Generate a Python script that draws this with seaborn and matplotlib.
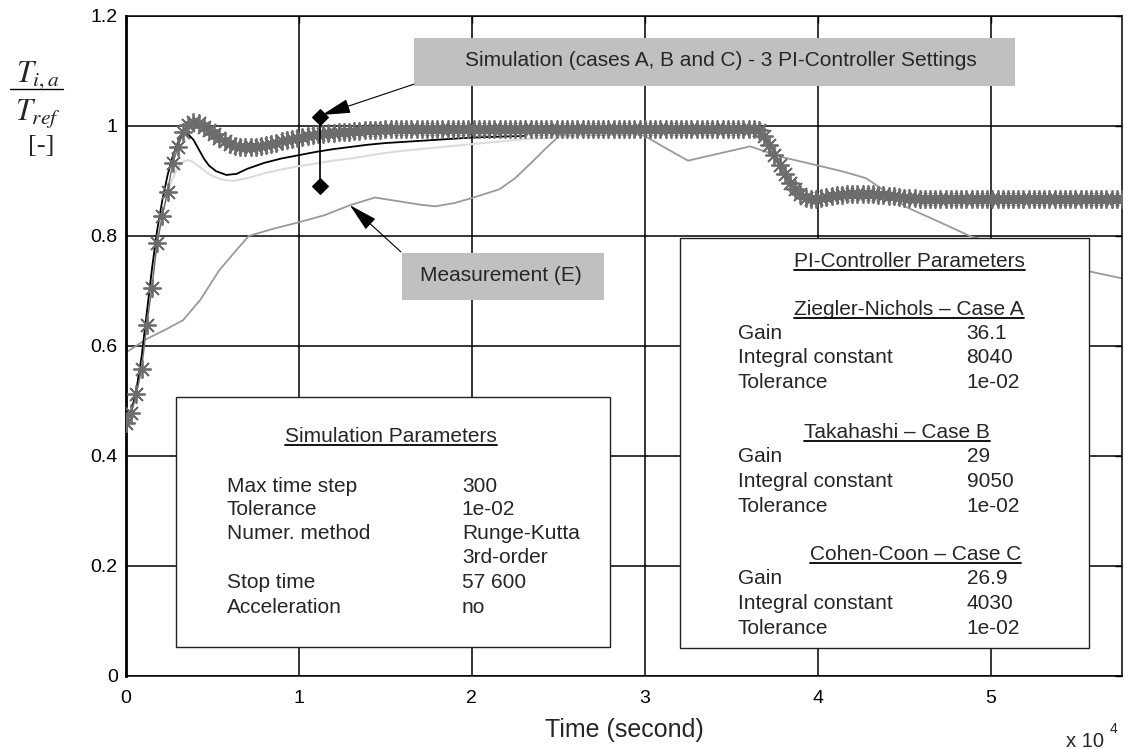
import numpy as np
import matplotlib
matplotlib.use('Agg')
import matplotlib.pyplot as plt
import seaborn as sns
from matplotlib.patches import Rectangle
from matplotlib.lines import Line2D

# simulated response with stars (one value every 300 s, the max time step)
sim_step = 300
sim_y = [
    .460, .478, .513, .558, .638, .706, .787, .836, .880, .932,   # 0 s
    .961, .989, 1.001, 1.007, 1.005, .999, .992, .985, .978, .972,  # 3000 s
    .967, .964, .962, .961, .961, .962, .964, .966, .968, .970,   # 6000 s
    .972, .974, .976, .978, .980, .982, .983, .985, .986, .987,   # 9000 s
    .988, .989, .990, .990, .991, .991, .992, .992, .993, .993,   # 12000 s
    .994, .994, .994, .995, .995, .995, .995, .995, .995, .995,   # 15000 s
    .995, .995, .995, .995, .995, .995, .995, .995, .995, .995,   # 18000 s
    .995, .995, .995, .995, .995, .995, .995, .995, .995, .995,   # 21000 s
    .995, .995, .995, .995, .995, .995, .995, .995, .995, .995,   # 24000 s
    .995, .995, .995, .995, .995, .995, .995, .995, .995, .995,   # 27000 s
    .995, .995, .995, .995, .995, .995, .995, .995, .995, .995,   # 30000 s
    .995, .995, .995, .995, .995, .995, .995, .995, .995, .995,   # 33000 s
    .995, .995, .992, .982, .966, .948, .930, .912, .897, .885,   # 36000 s
    .876, .870, .868, .868, .869, .871, .873, .874, .875, .876,   # 39000 s
    .877, .877, .877, .876, .876, .875, .874, .873, .872, .871,   # 42000 s
    .870, .869, .869, .868, .868, .867, .867, .867, .867, .867,   # 45000 s
    .867, .867, .867, .867, .867, .867, .867, .867, .867, .867,   # 48000 s
    .867, .867, .867, .867, .867, .867, .867, .867, .867, .867,   # 51000 s
    .867, .867, .867, .867, .867, .867, .867, .867, .867, .867,   # 54000 s
    .867, .867, .867,                                             # 57000 s
]
sim_t = np.arange(len(sim_y)) * sim_step

# black simulated curve
blk_t = [0, 300, 600, 900, 1200, 1500, 1800, 2100, 2400, 2700, 3000, 3300, 3600,
         3900, 4200, 4500, 4800, 5200, 5800, 6400, 7000, 8000, 9000, 10000, 11000,
         12000, 13000, 14000, 15000, 16000, 17000, 18000, 19000, 20000, 21000,
         22000, 23000]
blk_y = [.460, .480, .520, .580, .660, .740, .810, .865, .910, .945, .970, .985, .985,
         .975, .958, .941, .928, .918, .911, .913, .922, .933, .941, .947, .953,
         .958, .962, .966, .969, .971, .973, .975, .977, .979, .980,
         .981, .982]

# light grey simulated curve
lgt_t = [0, 300, 600, 900, 1200, 1500, 1800, 2100, 2400, 2700, 3000, 3300, 3600,
         3900, 4200, 4600, 5000, 5500, 6200, 7000, 8000, 9000, 10000, 11000, 12000,
         13000, 14000, 15000, 16000, 17000, 18000, 19000, 20000, 21000, 22000,
         23000, 24000, 25000, 26000, 27000, 28000, 29000, 30000]
lgt_y = [.460, .478, .515, .575, .650, .725, .790, .840, .878, .905, .924, .935, .938,
         .934, .927, .917, .909, .903, .900, .905, .914, .921, .927, .932, .937,
         .941, .946, .951, .955, .958, .961, .964, .967, .970, .973,
         .976, .978, .980, .982, .983, .984, .985, .986]

# measurement (E)
meas_t = [0, 1200, 2300, 3300, 4300, 5400, 6400, 7100, 8500, 10000, 11500, 12950,
          14400, 15800, 17000, 17900, 19000, 20000, 21600, 22500, 23500, 24300,
          25150, 26500, 28000, 29000, 30000, 31200, 32500, 34300, 36100, 37300,
          38000, 39900, 41500, 42800, 43600, 45100, 47000, 48800, 52000, 55800, 57600]
meas_y = [.588, .613, .630, .647, .684, .738, .775, .800, .813, .825, .838, .856,
          .870, .863, .857, .854, .860, .869, .885, .905, .935, .960,
          .985, .989, .989, .988, .982, .960, .937, .950, .963, .950,
          .943, .929, .917, .905, .888, .853, .826, .800, .770, .735, .723]

# spread marker of the three PI settings
spread_t = [11210, 11210]
spread_y = [1.016, 0.891]

x_ticks = [0, 10000, 20000, 30000, 40000, 50000]
x_labels = ['0', '1', '2', '3', '4', '5']
y_ticks = [0, 0.2, 0.4, 0.6, 0.8, 1.0, 1.2]
y_labels = ['0', '0.2', '0.4', '0.6', '0.8', '1', '1.2']

sim_rows = [('Max time step', '300'), ('Tolerance', '1e-02'),
            ('Numer. method', 'Runge-Kutta'), ('', '3rd-order'),
            ('Stop time', '57 600'), ('Acceleration', 'no')]
sim_row_y = [.3345, .2927, .2491, .2055, .160, .1145]

pi_titles = ['Ziegler-Nichols \u2013 Case A', 'Takahashi \u2013 Case B', 'Cohen-Coon \u2013 Case C']
pi_title_x = [45290, 44600, 45640]
pi_title_y = [.6564, .4327, .2109]
pi_gain = ['36.1', '29', '26.9']
pi_integral = ['8040', '9050', '4030']
pi_tol = ['1e-02', '1e-02', '1e-02']
pi_row_y = [[.6127, .5691, .5236], [.3891, .3436, .2982], [.1673, .1218, .0764]]

sns.set_style('white')
plt.rcParams['font.family'] = ['Liberation Sans', 'DejaVu Sans']
plt.rcParams['mathtext.fontset'] = 'stix'

fig = plt.figure(figsize=(11.25, 7.49), dpi=100)
ax = fig.add_axes([126 / 1125, 73 / 749, 996 / 1125, 660 / 749])

sns.lineplot(x=meas_t, y=meas_y, ax=ax, color='#9a9a9a', lw=1.3, estimator=None, sort=False, zorder=2)
sns.lineplot(x=lgt_t, y=lgt_y, ax=ax, color='#dcdcdc', lw=1.5, estimator=None, sort=False, zorder=2)
sns.lineplot(x=blk_t, y=blk_y, ax=ax, color='black', lw=1.3, estimator=None, sort=False, zorder=3)
sns.lineplot(x=sim_t, y=sim_y, ax=ax, color='#6c6c6c', lw=1.0, marker=(8, 2, 0), markersize=13,
             markeredgecolor='#6c6c6c', markeredgewidth=1.3, estimator=None, sort=False, zorder=4)
sns.lineplot(x=spread_t, y=spread_y, ax=ax, color='black', lw=1.2, marker='D', markersize=8,
             markeredgecolor='black', estimator=None, sort=False, zorder=5)

ax.set_xlim(0, 57600)
ax.set_ylim(0, 1.2)
ax.set_xticks(x_ticks)
ax.set_xticklabels(x_labels)
ax.set_yticks(y_ticks)
ax.set_yticklabels(y_labels)
ax.set_xlabel('')
ax.set_ylabel('')
ax.grid(True, color='black', lw=1.1)
ax.set_axisbelow(True)
ax.tick_params(direction='in', length=5, width=1, top=True, right=True, labelsize=14, colors='black')
ax.tick_params(axis='x', pad=10)
ax.tick_params(axis='y', pad=6)
for side in ['top', 'right', 'bottom']:
    ax.spines[side].set_color('black')
    ax.spines[side].set_linewidth(1.1)
ax.spines['left'].set_color('black')
ax.spines['left'].set_linewidth(2.0)

# parameter boxes
ax.add_patch(Rectangle((2890, 0.053), 25090, 0.454, facecolor='white', edgecolor='#222222', lw=1.0, zorder=6))
ax.add_patch(Rectangle((32020, 0.051), 23700, 0.745, facecolor='white', edgecolor='#222222', lw=1.0, zorder=6))

# grey callouts
ax.add_patch(Rectangle((16650, 1.073), 34740, 0.087, facecolor='#c0c0c0', edgecolor='none', zorder=6))
ax.add_patch(Rectangle((15950, 0.684), 11680, 0.085, facecolor='#c0c0c0', edgecolor='none', zorder=6))
fs = 15
ax.text(19595, 1.109, 'Simulation (cases A, B and C) - 3 PI-Controller Settings', fontsize=fs,
        va='baseline', zorder=7)
ax.text(16994, 0.718, 'Measurement (E)', fontsize=fs, va='baseline', zorder=7)
arrow = dict(arrowstyle='-|>,head_length=1.2,head_width=0.3', mutation_scale=15, color='black',
             lw=0.8, shrinkA=0, shrinkB=0)
ax.annotate('', xy=(11330, 1.020), xytext=(16650, 1.076), arrowprops=arrow, zorder=7)
ax.annotate('', xy=(12950, 0.856), xytext=(15900, 0.771), arrowprops=arrow, zorder=7)

titles = []
titles.append(ax.text(15320, 0.4255, 'Simulation Parameters', fontsize=fs, ha='center', va='baseline', zorder=7))
for (lab, val), y in zip(sim_rows, sim_row_y):
    ax.text(5838, y, lab, fontsize=fs, va='baseline', zorder=7)
    ax.text(19422, y, val, fontsize=fs, va='baseline', zorder=7)

titles.append(ax.text(45290, 0.7436, 'PI-Controller Parameters', fontsize=fs, ha='center', va='baseline', zorder=7))
for i, t in enumerate(pi_titles):
    titles.append(ax.text(pi_title_x[i], pi_title_y[i], t, fontsize=fs, ha='center', va='baseline', zorder=7))
    rows = [('Gain', pi_gain[i]), ('Integral constant', pi_integral[i]), ('Tolerance', pi_tol[i])]
    for (lab, val), y in zip(rows, pi_row_y[i]):
        ax.text(35376, y, lab, fontsize=fs, va='baseline', zorder=7)
        ax.text(48613, y, val, fontsize=fs, va='baseline', zorder=7)

# underline the titles
renderer = fig.canvas.get_renderer()
inv = fig.transFigure.inverted()
for t in titles:
    bb = t.get_window_extent(renderer=renderer)
    yb = ax.transData.transform((0, t.get_position()[1]))[1] - 3
    (fx0, fy), (fx1, _) = inv.transform([(bb.x0, yb), (bb.x1, yb)])
    fig.add_artist(Line2D([fx0, fx1], [fy, fy], color='black', lw=1.3, zorder=10))

# y label as a stacked fraction
fig.text(38 / 1125, 1 - 82 / 749, r'$T_{i,a}$', fontsize=22, ha='center', va='baseline')
fig.add_artist(Line2D([10 / 1125, 63 / 1125], [1 - 89 / 749, 1 - 89 / 749], color='black', lw=1.0))
fig.text(38 / 1125, 1 - 120 / 749, r'$T_{ref}$', fontsize=22, ha='center', va='baseline')
fig.text(41 / 1125, 1 - 152 / 749, '[-]', fontsize=19, ha='center', va='baseline',
         family=['Liberation Serif', 'DejaVu Serif'])

fig.text(624 / 1125, 1 - 737 / 749, 'Time (second)', fontsize=18, ha='center', va='baseline')
fig.text(1104 / 1125, 1 - 747 / 749, 'x 10', fontsize=14.5, ha='right', va='baseline')
fig.text(1110 / 1125, 1 - 733 / 749, '4', fontsize=10, ha='left', va='baseline')

fig.savefig('out.png', dpi=100)
